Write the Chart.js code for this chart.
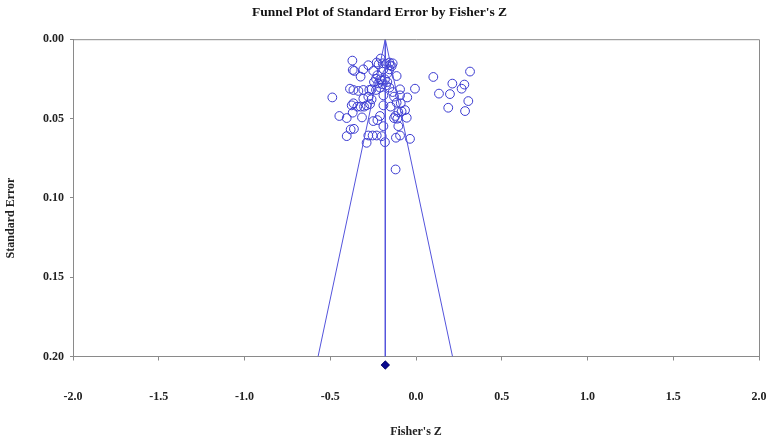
<!DOCTYPE html>
<html lang="en">
<head>
  <meta charset="UTF-8" />
  <title>Funnel Plot of Standard Error by Fisher's Z</title>
  <script src="https://cdn.jsdelivr.net/npm/chart.js"></script>
  <style>
    body {
      margin: 0;
      background: #ffffff;
    }
    #wrap {
      width: 767px;
      height: 439px;
    }
  </style>
</head>
<body>
  <div id="wrap"><canvas id="chart"></canvas></div>

  <script>
    // studies: Fisher's Z and its standard error
    const studyZ = [
      -0.371, -0.369, -0.360, -0.307, -0.323, -0.278, -0.249, -0.229, -0.206, -0.194,
      -0.175, -0.155, -0.136, -0.218, -0.190, -0.155, -0.167, -0.113, -0.233, -0.210,
      -0.220, -0.245, -0.194, -0.175, -0.155, -0.210, -0.259, -0.272, -0.233, -0.093,
      -0.136, -0.006, -0.488, -0.385, -0.365, -0.336, -0.307, -0.307, -0.278, -0.259,
      -0.190, -0.128, -0.093, -0.051, -0.375, -0.365, -0.342, -0.323, -0.303, -0.288,
      -0.268, -0.190, -0.148, -0.113, -0.089, -0.064, -0.084, -0.103, -0.447, -0.404,
      -0.369, -0.315, -0.210, -0.225, -0.249, -0.128, -0.109, -0.120, -0.054, -0.190,
      -0.103, -0.381, -0.362, -0.404, -0.278, -0.253, -0.229, -0.200, -0.288, -0.181,
      -0.117, -0.093, -0.035, -0.119, -0.225, -0.181, -0.167, -0.152, -0.142, -0.200,
      0.101, 0.315, 0.212, 0.282, 0.266, 0.134, 0.198, 0.305, 0.188, 0.286
    ];
    const studySE = [
      0.0135, 0.0194, 0.0200, 0.0190, 0.0236, 0.0164, 0.0200, 0.0147, 0.0122, 0.0152,
      0.0156, 0.0147, 0.0152, 0.0158, 0.0190, 0.0190, 0.0215, 0.0232, 0.0249, 0.0253,
      0.0278, 0.0270, 0.0284, 0.0291, 0.0305, 0.0305, 0.0316, 0.0320, 0.0320, 0.0316,
      0.0333, 0.0312, 0.0367, 0.0312, 0.0320, 0.0326, 0.0320, 0.0375, 0.0362, 0.0379,
      0.0354, 0.0362, 0.0354, 0.0367, 0.0417, 0.0404, 0.0425, 0.0425, 0.0425, 0.0417,
      0.0409, 0.0417, 0.0425, 0.0400, 0.0404, 0.0447, 0.0455, 0.0459, 0.0484, 0.0497,
      0.0463, 0.0493, 0.0484, 0.0510, 0.0516, 0.0497, 0.0501, 0.0484, 0.0495, 0.0548,
      0.0548, 0.0569, 0.0565, 0.0611, 0.0607, 0.0607, 0.0607, 0.0611, 0.0653, 0.0649,
      0.0621, 0.0607, 0.0628, 0.0821, 0.0227, 0.0253, 0.0270, 0.0164, 0.0170, 0.0262,
      0.0238, 0.0204, 0.0280, 0.0286, 0.0312, 0.0343, 0.0346, 0.0390, 0.0432, 0.0453
    ];

    // pooled estimate and 95% funnel limits
    const pooledZ = -0.179;
    const pooledSE = 0.2054;
    const funnelZ = [-0.571, -0.179, 0.213];
    const funnelSE = [0.20, 0.00, 0.20];
    const centerZ = [-0.179, -0.179];
    const centerSE = [0.00, 0.20];

    const xTicks = [-2.0, -1.5, -1.0, -0.5, 0.0, 0.5, 1.0, 1.5, 2.0];
    const yTicks = [0.00, 0.05, 0.10, 0.15, 0.20];

    const AXIS_GREY = '#8a8a8a';
    const SERIF = "'Liberation Serif', 'Times New Roman', serif";

    const toPoints = (xs, ys) => xs.map((x, i) => ({ x: x, y: ys[i] }));

    // box round the plot, pooled diamond below the axis, rotated y title
    const framePlugin = {
      id: 'frame',
      afterDraw(chart) {
        const { ctx, chartArea: a, scales } = chart;
        ctx.save();
        ctx.strokeStyle = AXIS_GREY;
        ctx.lineWidth = 1;
        ctx.beginPath();
        ctx.moveTo(a.left, a.top + 0.5);
        ctx.lineTo(a.right + 0.5, a.top + 0.5);
        ctx.lineTo(a.right + 0.5, a.bottom);
        ctx.stroke();

        // the pooled point sits outside the y range, so the point element won't draw it
        Chart.helpers.drawPoint(ctx, {
          pointStyle: 'rectRot',
          radius: 4.5,
          borderWidth: 0
        }, scales.x.getPixelForValue(pooledZ), scales.y.getPixelForValue(pooledSE));
        ctx.fillStyle = '#0a0a8c';
        ctx.fill();

        ctx.fillStyle = '#222';
        ctx.font = "bold 12px " + SERIF;
        ctx.textAlign = 'center';
        ctx.textBaseline = 'middle';
        ctx.translate(11, 218);
        ctx.rotate(-Math.PI / 2);
        ctx.fillText('Standard Error', 0, 0);
        ctx.restore();
      }
    };

    new Chart(document.getElementById('chart'), {
      type: 'scatter',
      data: {
        datasets: [
          {
            data: toPoints(funnelZ, funnelSE),
            showLine: true,
            borderColor: '#5454dc',
            borderWidth: 1,
            pointRadius: 0,
            tension: 0
          },
          {
            data: toPoints(centerZ, centerSE),
            showLine: true,
            borderColor: '#5454dc',
            borderWidth: 1,
            pointRadius: 0
          },
          {
            data: toPoints(studyZ, studySE),
            pointStyle: 'circle',
            pointRadius: 4.4,
            borderWidth: 1,
            borderColor: '#3b3bd0',
            backgroundColor: 'rgba(0,0,0,0)'
          }
        ]
      },
      options: {
        responsive: true,
        maintainAspectRatio: false,
        animation: false,
        layout: { padding: { right: 8, left: 0, top: 0, bottom: 0 } },
        plugins: {
          legend: { display: false },
          tooltip: { enabled: false },
          title: {
            display: true,
            text: "Funnel Plot of Standard Error by Fisher's Z",
            color: '#111',
            font: { family: SERIF, size: 13.5, weight: 'bold' },
            padding: { top: 4, bottom: 19 }
          }
        },
        scales: {
          x: {
            type: 'linear',
            min: -2,
            max: 2,
            afterBuildTicks: (s) => { s.ticks = xTicks.map(v => ({ value: v })); },
            afterFit: (s) => {
              s.height = 82.5;
              s.paddingLeft = 0;
              s.paddingRight = 0;
            },
            grid: { drawOnChartArea: false, tickLength: 4, color: AXIS_GREY },
            border: { color: AXIS_GREY },
            ticks: {
              padding: 29,
              color: '#222',
              font: { family: SERIF, size: 12, weight: 'bold' },
              callback: (v) => v.toFixed(1)
            },
            title: {
              display: true,
              text: "Fisher's Z",
              color: '#222',
              font: { family: SERIF, size: 12, weight: 'bold' },
              padding: { top: 0, bottom: 0 }
            }
          },
          y: {
            type: 'linear',
            reverse: true,
            min: 0,
            max: 0.2,
            afterBuildTicks: (s) => { s.ticks = yTicks.map(v => ({ value: v })); },
            afterFit: (s) => {
              s.width = 73;
              s.paddingTop = 0;
              s.paddingBottom = 0;
            },
            grid: { drawOnChartArea: false, tickLength: 3, color: AXIS_GREY },
            border: { color: AXIS_GREY },
            ticks: {
              padding: 6,
              color: '#222',
              font: { family: SERIF, size: 12, weight: 'bold' },
              callback: (v) => v.toFixed(2)
            }
          }
        }
      },
      plugins: [framePlugin]
    });
  </script>
</body>
</html>
